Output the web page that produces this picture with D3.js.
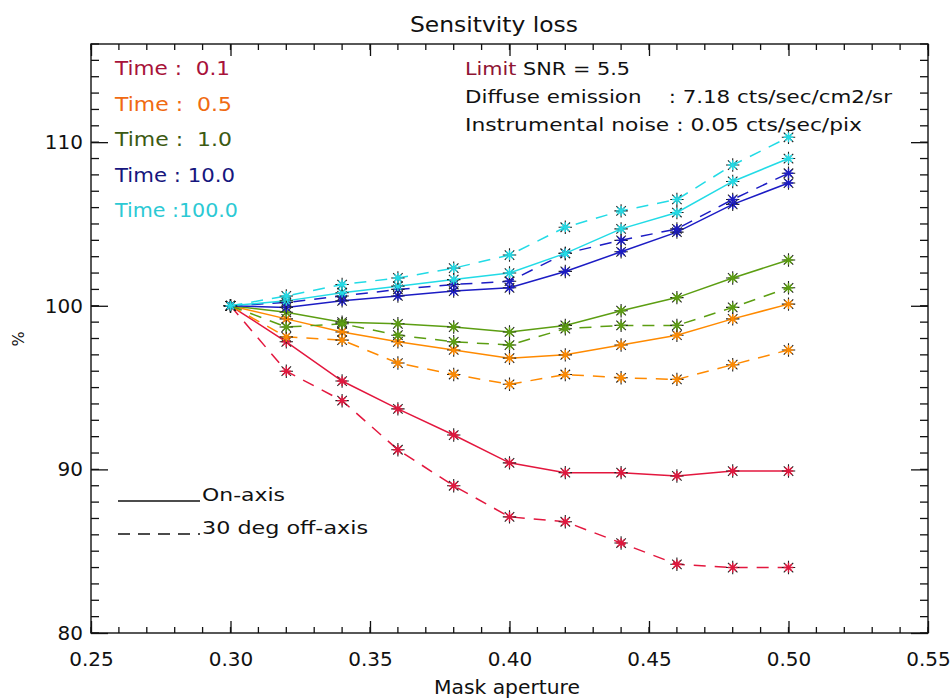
<!DOCTYPE html>
<html>
<head>
<meta charset="utf-8">
<script src="https://cdn.jsdelivr.net/npm/d3@7"></script>
<style>
  body { margin: 0; background: #fff; }
  #chart { width: 952px; height: 700px; }
  text { font-family: "DejaVu Sans", sans-serif; fill: #111; white-space: pre; }
  .axis path, .axis line { stroke: #111; stroke-width: 1.3; }
  .axis text { font-size: 20px; }
</style>
</head>
<body>
<div id="chart"></div>
<script>

// mask aperture values (x)
var apertures = [0.30, 0.32, 0.34, 0.36, 0.38, 0.40, 0.42, 0.44, 0.46, 0.48, 0.50];

var times = ["0.1", "0.5", "1.0", "10.0", "100.0"];
var timeLabels = ["Time :  0.1", "Time :  0.5", "Time :  1.0", "Time : 10.0", "Time :100.0"];

// sensitivity in %, on-axis (solid)
var onAxis_01  = [100, 97.8, 95.4, 93.7, 92.1, 90.4, 89.8, 89.8, 89.6, 89.9, 89.9];
var onAxis_05  = [100, 99.2, 98.4, 97.8, 97.3, 96.8, 97.0, 97.6, 98.2, 99.2, 100.1];
var onAxis_1   = [100, 99.6, 99.0, 98.9, 98.7, 98.4, 98.8, 99.7, 100.5, 101.7, 102.8];
var onAxis_10  = [100, 99.9, 100.3, 100.6, 100.9, 101.1, 102.1, 103.3, 104.5, 106.2, 107.5];
var onAxis_100 = [100, 100.3, 100.8, 101.2, 101.6, 102.0, 103.2, 104.7, 105.7, 107.6, 109.0];

// sensitivity in %, 30 deg off-axis (dashed)
var offAxis_01  = [100, 96.0, 94.2, 91.2, 89.0, 87.1, 86.8, 85.5, 84.2, 84.0, 84.0];
var offAxis_05  = [100, 98.1, 97.9, 96.5, 95.8, 95.2, 95.8, 95.6, 95.5, 96.4, 97.3];
var offAxis_1   = [100, 98.7, 98.9, 98.2, 97.8, 97.6, 98.6, 98.8, 98.8, 99.9, 101.1];
var offAxis_10  = [100, 100.2, 100.6, 101.0, 101.3, 101.5, 103.2, 104.0, 104.7, 106.5, 108.1];
var offAxis_100 = [100, 100.6, 101.3, 101.7, 102.3, 103.1, 104.8, 105.8, 106.5, 108.6, 110.3];

var xTicks = [0.25, 0.30, 0.35, 0.40, 0.45, 0.50, 0.55];
var yTicks = [80, 90, 100, 110];

var lineColors = ["#e3173e", "#ff8a00", "#5c9e12", "#1c1cc4", "#22dbe6"];
var textColors = ["#a8123a", "#f06a12", "#3c5a12", "#16167e", "#2cc9d4"];

var notes = [
    "Diffuse emission    : 7.18 cts/sec/cm2/sr",
    "Instrumental noise : 0.05 cts/sec/pix"
];

var series = times.map(function(t, i) {
    return {
        time: t,
        on: [onAxis_01, onAxis_05, onAxis_1, onAxis_10, onAxis_100][i],
        off: [offAxis_01, offAxis_05, offAxis_1, offAxis_10, offAxis_100][i]
    };
});

var width = 952;
var height = 700;
var margin = {top: 44, left: 91, right: 24, bottom: 67};

var svg = d3.select("#chart")
    .append("svg")
    .attr("width", width)
    .attr("height", height);

var xScale = d3.scaleLinear()
    .domain([0.25, 0.55])
    .range([margin.left, width - margin.right]);

var yScale = d3.scaleLinear()
    .domain([80, 116])
    .range([height - margin.bottom, margin.top]);

var xMinor = d3.range(25, 56).map(function(d) { return d / 100; });
var yMinor = d3.range(80, 117);

var plotW = width - margin.left - margin.right;
var plotH = height - margin.top - margin.bottom;

// frame
svg.append("rect")
    .attr("x", margin.left)
    .attr("y", margin.top)
    .attr("width", plotW)
    .attr("height", plotH)
    .attr("fill", "none")
    .attr("stroke", "#111")
    .attr("stroke-width", 1.4);

// minor ticks, all four sides
var minor = svg.append("g").attr("class", "axis");
minor.selectAll(".xb").data(xMinor).enter().append("line")
    .attr("x1", function(d) { return xScale(d); })
    .attr("x2", function(d) { return xScale(d); })
    .attr("y1", height - margin.bottom)
    .attr("y2", height - margin.bottom - 6);
minor.selectAll(".xt").data(xMinor).enter().append("line")
    .attr("x1", function(d) { return xScale(d); })
    .attr("x2", function(d) { return xScale(d); })
    .attr("y1", margin.top)
    .attr("y2", margin.top + 6);
minor.selectAll(".yl").data(yMinor).enter().append("line")
    .attr("x1", margin.left)
    .attr("x2", margin.left + 8)
    .attr("y1", function(d) { return yScale(d); })
    .attr("y2", function(d) { return yScale(d); });
minor.selectAll(".yr").data(yMinor).enter().append("line")
    .attr("x1", width - margin.right)
    .attr("x2", width - margin.right - 8)
    .attr("y1", function(d) { return yScale(d); })
    .attr("y2", function(d) { return yScale(d); });

var fmt = d3.format(".2f");

var xAxis = svg.append("g")
    .attr("class", "axis")
    .attr("transform", `translate(0,${height - margin.bottom})`)
    .call(d3.axisBottom(xScale).tickValues(xTicks).tickFormat(fmt).tickSizeInner(-12).tickSizeOuter(0).tickPadding(19));

var xAxisTop = svg.append("g")
    .attr("class", "axis")
    .attr("transform", `translate(0,${margin.top})`)
    .call(d3.axisTop(xScale).tickValues(xTicks).tickFormat("").tickSizeInner(-12).tickSizeOuter(0));

var yAxis = svg.append("g")
    .attr("class", "axis")
    .attr("transform", `translate(${margin.left},0)`)
    .call(d3.axisLeft(yScale).tickValues(yTicks).tickSizeInner(-17).tickSizeOuter(0).tickPadding(8));

var yAxisRight = svg.append("g")
    .attr("class", "axis")
    .attr("transform", `translate(${width - margin.right},0)`)
    .call(d3.axisRight(yScale).tickValues(yTicks).tickFormat("").tickSizeInner(-17).tickSizeOuter(0));

svg.selectAll(".axis .domain").remove();

// asterisk symbol like IDL psym=2
var asterisk = {
    draw: function(context, size) {
        var r = Math.sqrt(size) / 2;
        var a = r * Math.SQRT1_2;
        context.moveTo(-r, 0); context.lineTo(r, 0);
        context.moveTo(0, -r); context.lineTo(0, r);
        context.moveTo(-a, -a); context.lineTo(a, a);
        context.moveTo(-a, a); context.lineTo(a, -a);
    }
};

var line = d3.line()
    .x(function(d, i) { return xScale(apertures[i]); })
    .y(function(d) { return yScale(d); });

series.forEach(function(s, i) {
    var g = svg.append("g");

    [s.on, s.off].forEach(function(vals, k) {
        g.append("path")
            .attr("d", line(vals))
            .attr("fill", "none")
            .attr("stroke", lineColors[i])
            .attr("stroke-width", 1.5)
            .attr("stroke-dasharray", k === 1 ? "12,9" : null);

        g.selectAll(null)
            .data(vals)
            .enter()
            .append("path")
                .attr("transform", function(d, j) { return `translate(${xScale(apertures[j])},${yScale(d)})`; })
                .attr("d", d3.symbol().type(asterisk).size(180))
                .attr("stroke", "#222")
                .attr("stroke-width", 1.1);

        g.selectAll(null)
            .data(vals)
            .enter()
            .append("path")
                .attr("transform", function(d, j) { return `translate(${xScale(apertures[j])},${yScale(d)})`; })
                .attr("d", d3.symbol().type(asterisk).size(95))
                .attr("stroke", lineColors[i])
                .attr("stroke-width", 1.4);
    });
});

// time legend
var labelLen = [115, 117, 117, 120, 123];
svg.selectAll(".timeLabel")
    .data(timeLabels)
    .enter()
    .append("text")
        .attr("class", "timeLabel")
        .attr("x", 115)
        .attr("y", function(d, i) { return 75 + i * 35.5; })
        .attr("font-size", "19px")
        .attr("textLength", function(d, i) { return labelLen[i]; })
        .attr("lengthAdjust", "spacingAndGlyphs")
        .style("fill", function(d, i) { return textColors[i]; })
        .text(function(d) { return d; });

// run parameters
var snr = svg.append("text")
    .attr("x", 465)
    .attr("y", 75)
    .attr("font-size", "18px")
    .attr("textLength", 165)
    .attr("lengthAdjust", "spacingAndGlyphs");
snr.append("tspan").style("fill", "#8e1434").text("Limit");
snr.append("tspan").text(" SNR = 5.5");

var noteLen = [427, 397];
svg.selectAll(".note")
    .data(notes)
    .enter()
    .append("text")
        .attr("class", "note")
        .attr("x", 465)
        .attr("y", function(d, i) { return 103 + i * 28; })
        .attr("font-size", "18px")
        .attr("textLength", function(d, i) { return noteLen[i]; })
        .attr("lengthAdjust", "spacingAndGlyphs")
        .text(function(d) { return d; });

// line-style legend
var styleKey = [{label: "On-axis", dash: null, len: 83}, {label: "30 deg off-axis", dash: "12,8", len: 166}];
styleKey.forEach(function(d, i) {
    var y = 501 + i * 33;
    svg.append("line")
        .attr("x1", 118)
        .attr("x2", 200)
        .attr("y1", y)
        .attr("y2", y)
        .attr("stroke", "#111")
        .attr("stroke-width", 1.3)
        .attr("stroke-dasharray", d.dash);
    svg.append("text")
        .attr("x", 202)
        .attr("y", y)
        .attr("font-size", "18px")
        .attr("textLength", d.len)
        .attr("lengthAdjust", "spacingAndGlyphs")
        .text(d.label);
});

// titles
svg.append("text")
    .attr("x", 494)
    .attr("y", 32)
    .attr("text-anchor", "middle")
    .attr("font-size", "22px")
    .attr("textLength", 168)
    .attr("lengthAdjust", "spacingAndGlyphs")
    .text("Sensitvity loss");

svg.append("text")
    .attr("x", 507)
    .attr("y", 694)
    .attr("text-anchor", "middle")
    .attr("font-size", "19px")
    .attr("textLength", 146)
    .attr("lengthAdjust", "spacingAndGlyphs")
    .text("Mask aperture");

svg.append("text")
    .attr("transform", "translate(24,339) rotate(-90)")
    .attr("text-anchor", "middle")
    .attr("font-size", "16px")
    .text("%");

</script>
</body>
</html>
